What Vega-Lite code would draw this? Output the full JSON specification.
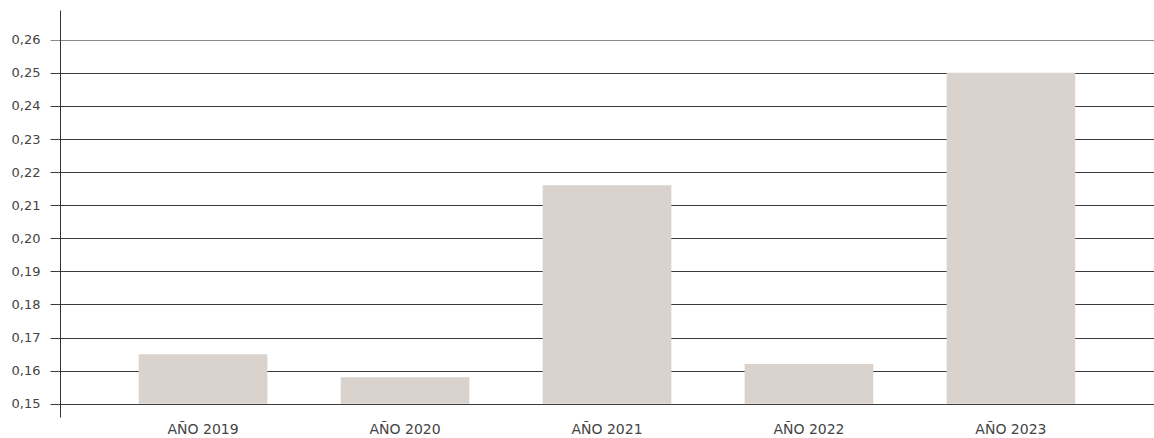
{
  "$schema": "https://vega.github.io/schema/vega-lite/v6.json",
  "background": "white",
  "autosize": "none",
  "width": 1094,
  "height": 407,
  "padding": {"left": 60, "top": 10, "right": 0, "bottom": 21},
  "data": {
    "values": [
      {"anio": "AÑO 2019", "valor": 0.165},
      {"anio": "AÑO 2020", "valor": 0.158},
      {"anio": "AÑO 2021", "valor": 0.216},
      {"anio": "AÑO 2022", "valor": 0.162},
      {"anio": "AÑO 2023", "valor": 0.25}
    ]
  },
  "mark": {"type": "bar", "color": "#dad2cc"},
  "encoding": {
    "x": {
      "field": "anio",
      "type": "nominal",
      "title": null,
      "sort": null,
      "scale": {"paddingInner": 0.363, "paddingOuter": 0.39},
      "axis": {"labelAngle": 0, "ticks": false, "domain": false, "labelPadding": 5, "labelColor": "#444", "labelFontSize": 14}
    },
    "y": {
      "field": "valor",
      "type": "quantitative",
      "title": null,
      "scale": {"domain": [0.146, 0.269], "nice": false, "zero": false},
      "axis": {
        "values": [0.15, 0.16, 0.17, 0.18, 0.19, 0.2, 0.21, 0.22, 0.23, 0.24, 0.25, 0.26],
        "labelExpr": "replace(format(datum.value, '.2f'), '.', ',')",
        "grid": true,
        "gridColor": {"condition": {"test": "datum.value > 0.255", "value": "#8a8a8a"}, "value": "#3c3c3c"},
        "gridWidth": 1,
        "tickColor": {"condition": {"test": "datum.value > 0.255", "value": "#8a8a8a"}, "value": "#3c3c3c"},
        "tickSize": 10,
        "domainColor": "#333",
        "labelPadding": 10,
        "labelColor": "#444",
        "labelFontSize": 13
      }
    },
    "y2": {"datum": 0.15}
  },
  "config": {
    "font": "DejaVu Sans",
    "view": {"stroke": null}
  }
}
